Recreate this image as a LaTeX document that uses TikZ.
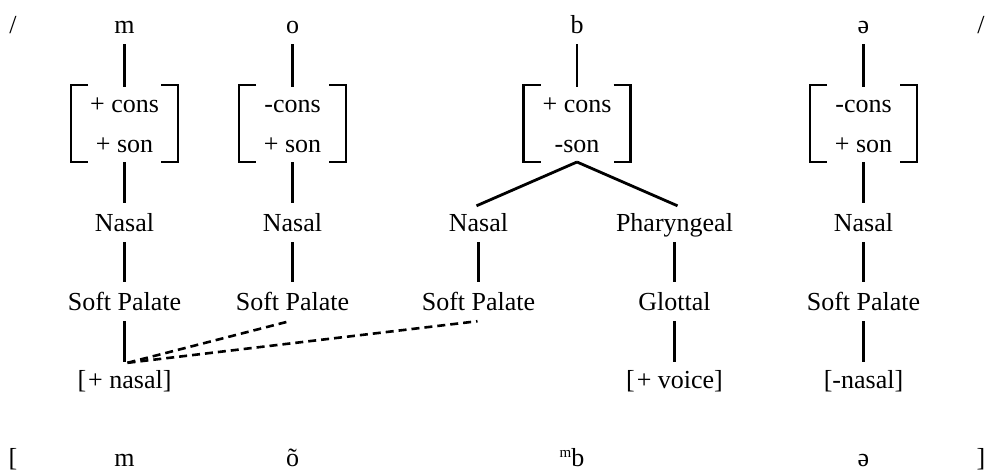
\documentclass[tikz,border=0pt]{standalone}
\usepackage{fontspec}
\setmainfont{Liberation Serif}
\begin{document}
\begin{tikzpicture}[x=1pt,y=-1pt,
  wd/.style={inner xsep=0pt,inner ysep=11pt,text height=17pt,text depth=0pt,anchor=base,font=\fontsize{26}{30}\selectfont},
  fbox/.style={minimum width=107pt,minimum height=77pt,inner sep=0pt,outer sep=0pt},
  ln/.style={line width=2.8pt},
  brk/.style={line width=2.9pt},
  dsh/.style={line width=2.6pt,dash pattern=on 8pt off 5pt}]
\useasboundingbox (0,0) rectangle (985,472);

% top row
\node[wd] (sl1) at (13,33) {/};
\node[wd] (tm) at (124.5,33) {m};
\node[wd] (to) at (292.5,33) {o};
\node[wd] (tb) at (577,33) {b};
\node[wd] (te) at (863.5,33) {ə};
\node[wd] (sl2) at (981,33) {/};

% feature boxes
\node[fbox] (mF) at (124.5,123.5) {};
\node[fbox] (oF) at (292.5,123.5) {};
\node[fbox] (bF) at (577,123.5) {};
\node[fbox] (eF) at (863.5,123.5) {};
\foreach \n in {mF,oF,bF,eF}{
  \draw[brk] ([xshift=17pt]\n.north west) -| (\n.south west) -- ([xshift=17pt]\n.south west);
  \draw[brk] ([xshift=-17pt]\n.north east) -| (\n.south east) -- ([xshift=-17pt]\n.south east);
}
\node[wd] (mF1) at (124.5,112) {+ cons};
\node[wd] (mF2) at (124.5,152) {+ son};
\node[wd] (oF1) at (292.5,112) {-cons};
\node[wd] (oF2) at (292.5,152) {+ son};
\node[wd] (bF1) at (577,112) {+ cons};
\node[wd] (bF2) at (577,152) {-son};
\node[wd] (eF1) at (863.5,112) {-cons};
\node[wd] (eF2) at (863.5,152) {+ son};

% Nasal / Pharyngeal row
\node[wd] (mN) at (124.5,231) {Nasal};
\node[wd] (oN) at (292.5,231) {Nasal};
\node[wd] (bN) at (478.5,231) {Nasal};
\node[wd] (bP) at (674.5,231) {Pharyngeal};
\node[wd] (eN) at (863.5,231) {Nasal};

% Soft palate row
\node[wd] (mS) at (124.5,310) {Soft Palate};
\node[wd] (oS) at (292.5,310) {Soft Palate};
\node[wd] (bS) at (478.5,310) {Soft Palate};
\node[wd] (bG) at (674.5,310) {Glottal};
\node[wd] (eS) at (863.5,310) {Soft Palate};

% feature row
\node[wd] (mV) at (124.5,388) {[\kern2pt+ nasal]};
\node[wd] (bV) at (674.5,388) {[\kern2pt+ voice]};
\node[wd] (eV) at (863.5,388) {[-nasal]};

% bottom row
\node[wd] (ob) at (13,466) {[};
\node[wd] (om) at (124.5,466) {m};
\node[wd] (oo) at (292.5,466) {õ};
\node[wd] (omb) at (572,466) {\raisebox{9pt}{\fontsize{15}{15}\selectfont m}b};
\node[wd] (oe) at (863.5,466) {ə};
\node[wd] (cb) at (981,466) {]};

% connectors
\draw[ln] (tm.south) -- ([yshift=-2pt]mF.north);
\draw[ln] (to.south) -- ([yshift=-2pt]oF.north);
\draw[ln] (tb.south) -- ([yshift=-2pt]bF.north);
\draw[ln] (te.south) -- ([yshift=-2pt]eF.north);

\draw[ln] (mF.south) -- (mN.north);
\draw[ln] (oF.south) -- (oN.north);
\draw[ln] (eF.south) -- (eN.north);
\draw[ln] (bF.south) -- ([yshift=-3pt,xshift=-2pt]bN.north);
\draw[ln] (bF.south) -- ([yshift=-3pt,xshift=3pt]bP.north);

\draw[ln] (mN.south) -- (mS.north);
\draw[ln] (oN.south) -- (oS.north);
\draw[ln] (bN.south) -- (bS.north);
\draw[ln] (bP.south) -- (bG.north);
\draw[ln] (eN.south) -- (eS.north);

\draw[ln] (mS.south) -- ([yshift=-2pt]mV.north);
\draw[ln] (bG.south) -- ([yshift=-2pt]bV.north);
\draw[ln] (eS.south) -- ([yshift=-2pt]eV.north);

\draw[dsh] ([xshift=3pt,yshift=-3pt]mV.north) -- ([xshift=-3pt]oS.south);
\draw[dsh] ([xshift=3pt,yshift=-3pt]mV.north) -- ([xshift=-1pt]bS.south);
\end{tikzpicture}
\end{document}
